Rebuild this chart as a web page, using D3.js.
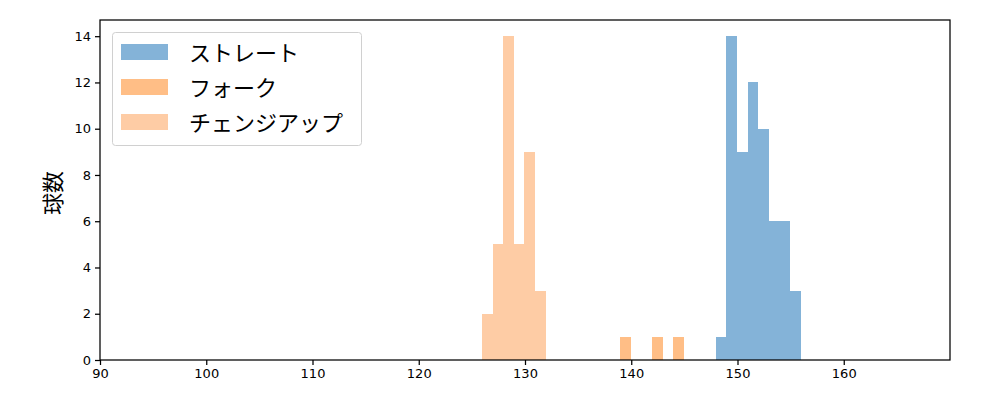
<!DOCTYPE html>
<head>
  <meta charset="utf-8">
  <style>
    body { margin: 0; background: #fff; }
    .axis path, .axis line { stroke: #000; stroke-width: 1.25; }
    .axis text { font-family: "DejaVu Sans", sans-serif; font-size: 13px; fill: #000; }
    .legend text { font-family: "Noto Sans CJK JP", sans-serif; font-size: 22px; fill: #000; }
  </style>
  <script src="https://cdn.jsdelivr.net/npm/d3@7"></script>
</head>
<body>
  <script>

    // bin start (km/h), bin width = 1
    const pitchNames = ['ストレート', 'フォーク', 'チェンジアップ'];
    const pitchColors = ['#84b3d8', '#ffbe86', '#fecca5'];

    const straightBins = [148, 149, 150, 151, 152, 153, 154, 155];
    const straightCounts = [1, 14, 9, 12, 10, 6, 6, 3];

    const forkBins = [139, 142, 144];
    const forkCounts = [1, 1, 1];

    const changeBins = [126, 127, 128, 129, 130, 131];
    const changeCounts = [2, 5, 14, 5, 9, 3];

    const xTicks = [90, 100, 110, 120, 130, 140, 150, 160];
    const yTicks = [0, 2, 4, 6, 8, 10, 12, 14];

    const series = [
      { bins: straightBins, counts: straightCounts },
      { bins: forkBins, counts: forkCounts },
      { bins: changeBins, counts: changeCounts }
    ];

    const w = 1000, h = 400;
    const margin = { left: 100, right: 50, top: 20, bottom: 40 };

    const svg = d3.select('body').append('svg')
        .attr('width', w)
        .attr('height', h);

    const xScale = d3.scaleLinear()
        .domain([90, 170])
        .range([margin.left, w - margin.right]);

    const yScale = d3.scaleLinear()
        .domain([0, 14.7])
        .range([h - margin.bottom, margin.top]);

    series.forEach((s, i) => {
      svg.append('g')
        .selectAll('rect')
        .data(s.bins.map((b, j) => [b, s.counts[j]]))
        .enter()
        .append('rect')
        .attr('x', (d) => xScale(d[0] - 0.05))
        .attr('y', (d) => yScale(d[1]))
        .attr('width', (d) => xScale(d[0] + 0.95) - xScale(d[0] - 0.05))
        .attr('height', (d) => yScale(0) - yScale(d[1]))
        .attr('fill', pitchColors[i])
        .attr('shape-rendering', 'crispEdges');
    });

    const xAxis = d3.axisBottom(xScale).tickValues(xTicks).tickSize(5).tickPadding(4);
    svg.append('g')
       .attr('class', 'x axis')
       .attr('transform', `translate(0, ${h - margin.bottom})`)
       .call(xAxis);

    const yAxis = d3.axisLeft(yScale).tickValues(yTicks).tickSize(5).tickPadding(4);
    svg.append('g')
       .attr('class', 'y axis')
       .attr('transform', `translate(${margin.left}, 0)`)
       .call(yAxis);

    svg.selectAll('.axis .domain').remove();

    // frame
    svg.append('rect')
       .attr('x', margin.left)
       .attr('y', margin.top)
       .attr('width', w - margin.left - margin.right)
       .attr('height', h - margin.top - margin.bottom)
       .attr('fill', 'none')
       .attr('stroke', '#000')
       .attr('stroke-width', 1.25);

    svg.append('text')
       .attr('transform', `translate(61, ${(margin.top + h - margin.bottom) / 2 + 3}) rotate(-90)`)
       .attr('text-anchor', 'middle')
       .attr('font-family', '"Noto Sans CJK JP", sans-serif')
       .attr('font-size', '22px')
       .text('球数');

    // legend
    const legend = svg.append('g').attr('class', 'legend');
    legend.append('rect')
       .attr('x', 112.5).attr('y', 32.5)
       .attr('width', 249).attr('height', 113)
       .attr('rx', 3)
       .attr('fill', '#fff')
       .attr('fill-opacity', 0.8)
       .attr('stroke', '#d0d0d0');

    pitchNames.forEach((name, i) => {
      const y = 52 + i * 35;
      legend.append('rect')
        .attr('x', 121).attr('y', y - 8)
        .attr('width', 47).attr('height', 16)
        .attr('fill', pitchColors[i]);
      legend.append('text')
        .attr('x', 189).attr('y', y + 8.5)
        .text(name);
    });

  </script>
</body>
